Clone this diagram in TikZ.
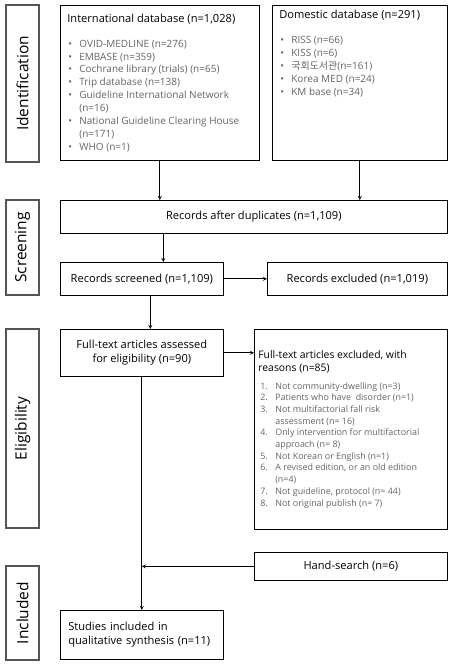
\documentclass[tikz,border=0pt]{standalone}
\usepackage{fontspec}
\setmainfont{Open Sans}
\newfontfamily\krfont{Noto Sans CJK KR}
\usetikzlibrary{positioning}
\definecolor{itemgray}{RGB}{100,100,100}
\definecolor{stagegray}{RGB}{85,85,85}

\newcommand{\bul}[1]{\par\hangindent=12pt\hangafter=1\noindent\makebox[12pt][l]{\hspace{1pt}\textbullet}#1}
\newcommand{\numit}[2]{\par\hangindent=17pt\hangafter=1\noindent\makebox[17pt][l]{\hspace{2pt}#1.}#2}

\begin{document}
\begin{tikzpicture}[x=1pt,y=-1pt,>=stealth,
    box/.style={draw, line width=0.7pt, anchor=north west, inner sep=0pt, align=center,
      font=\fontsize{11.1}{14}\selectfont},
    listbox/.style={draw, line width=0.7pt, anchor=north west, inner xsep=7pt, inner ysep=5pt},
    stagebox/.style={draw=stagegray, line width=1.3pt, rotate=90, minimum height=33pt, inner sep=0pt,
      font=\fontsize{15.5}{18}\selectfont},
    link/.style={->, line width=0.8pt}]
    \useasboundingbox (0,0) rectangle (455,666);

    % stages
    \node[stagebox, minimum width=157pt] (ident) at (22.5,83.5) {Identification};
    \node[stagebox, minimum width=95pt] (screen) at (22.5,247.5) {Screening};
    \node[stagebox, minimum width=199pt] (elig) at (22.5,428.5) {Eligibility};
    \node[stagebox, minimum width=94pt] (inclst) at (22.5,613) {Included};

    % databases
    \node[listbox] (intl) at (60,5) {\parbox[t][145pt][c]{185pt}{\raggedright
        \fontsize{11.1}{13}\selectfont International database (n=1,028)\par\vspace{12pt}
        {\fontsize{10}{12.9}\selectfont\color{itemgray}
        \bul{OVID-MEDLINE (n=276)}
        \bul{EMBASE (n=359)}
        \bul{Cochrane library (trials) (n=65)}
        \bul{Trip database (n=138)}
        \bul{\mbox{Guideline International Network}\newline(n=16)}
        \bul{\mbox{National Guideline Clearing House}\newline(n=171)}
        \bul{WHO (n=1)}\par}}};
    \node[listbox] (dom) at (272,5) {\parbox[t][145pt][t]{161pt}{\raggedright
        \fontsize{11.1}{13}\selectfont Domestic database (n=291)\par\vspace{12pt}
        {\fontsize{10}{12.9}\selectfont\color{itemgray}
        \bul{RISS (n=66)}
        \bul{KISS (n=6)}
        \bul{{\krfont 국회도서관}(n=161)}
        \bul{Korea MED (n=24)}
        \bul{KM base (n=34)}\par}}};

    % screening
    \node[box, minimum width=387pt, minimum height=33pt] (dup) at (60,200) {Records after duplicates (n=1,109)};
    \node[box, minimum width=163pt, minimum height=33pt] (screened) at (60,262) {Records screened (n=1,109)};
    \node[box, minimum width=180pt, minimum height=33pt] (excl) at (267,262) {Records excluded (n=1,019)};

    % eligibility
    \node[box, minimum width=163pt, minimum height=47pt] (fulltext) at (60,329) {Full-text articles assessed\\for eligibility (n=90)};
    \node[listbox, inner xsep=4pt] (reasons) at (254,329) {\parbox[t][190pt][c]{185pt}{\raggedright
        \fontsize{10.4}{13}\selectfont \mbox{Full-text articles excluded, with}\newline reasons (n=85)\par\vspace{6pt}
        {\fontsize{8.9}{11.7}\selectfont\color{itemgray}
        \numit{1}{Not community-dwelling (n=3)}
        \numit{2}{\mbox{Patients who have\ \ disorder (n=1)}}
        \numit{3}{\mbox{Not multifactorial fall risk}\newline assessment (n= 16)}
        \numit{4}{\mbox{Only intervention for multifactorial}\newline approach (n= 8)}
        \numit{5}{Not Korean or English (n=1)}
        \numit{6}{\mbox{A revised edition, or an old edition}\newline(n=4)}
        \numit{7}{\mbox{Not guideline, protocol (n= 44)}}
        \numit{8}{Not original publish (n= 7)}\par}}};

    % included
    \node[box, minimum width=193pt, minimum height=28pt] (hand) at (254,552) {Hand-search (n=6)};
    \node[box, minimum width=163pt, minimum height=49pt, align=left, inner xsep=8pt, text width=147pt] (incl) at (60,610) {Studies included in\\qualitative synthesis (n=11)};

    % connectors
    \coordinate (dupin) at ([xshift=21.5pt]screened.north);
    \coordinate (ftin) at ([xshift=8.5pt]screened.south);
    \draw[link] (intl.south) -- (intl.south |- dup.north);
    \draw[link] (dom.south) -- (dom.south |- dup.north);
    \draw[link] (dupin |- dup.south) -- (dupin);
    \draw[link] (screened) -- (excl);
    \draw[link] (ftin) -- (ftin |- fulltext.north);
    \draw[link] (fulltext) -- (reasons.west |- fulltext.east);
    \draw[link] (fulltext.south) -- (incl.north -| fulltext.south);
    \draw[link] (hand.west) -- (hand.west -| fulltext.south);
\end{tikzpicture}
\end{document}
